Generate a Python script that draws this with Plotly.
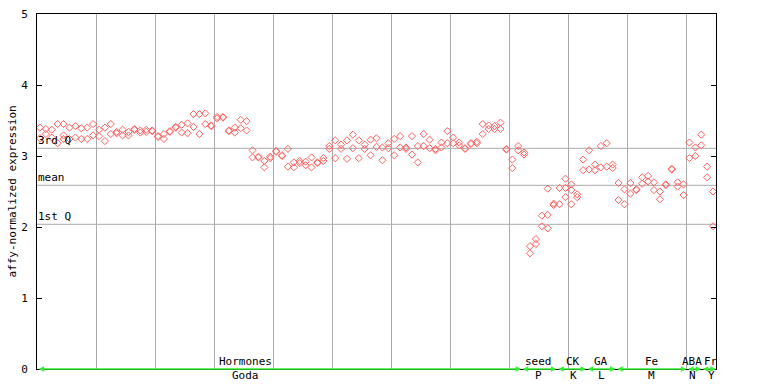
import plotly.graph_objects as go

# ---- data ----
rep1 = [3.40, 3.38, 3.37, 3.45, 3.45, 3.40, 3.42, 3.39, 3.40, 3.45,
        3.37, 3.40, 3.45, 3.34, 3.37, 3.34, 3.38, 3.36, 3.37, 3.36,
        3.28, 3.31, 3.35, 3.41, 3.44, 3.46, 3.59, 3.59, 3.60, 3.43,
        3.55, 3.55, 3.36, 3.40, 3.51, 3.49, 3.08, 2.99, 2.93, 2.99,
        3.07, 3.01, 3.10, 2.91, 2.93, 2.92, 2.98, 2.91, 2.97, 3.14,
        3.22, 3.16, 3.22, 3.30, 3.22, 3.16, 3.23, 3.25, 3.12, 3.18,
        3.24, 3.28, 3.12, 3.28, 3.14, 3.31, 3.23, 3.10, 3.19, 3.35,
        3.26, 3.19, 3.11, 3.18, 3.20, 3.45, 3.43, 3.42, 3.47, 3.10,
        2.95, 3.14, 3.05, 1.73, 1.83, 2.16, 2.54, 2.33, 2.55, 2.68,
        2.60, 2.46, 2.95, 3.08, 2.88, 3.14, 3.18, 2.88, 2.62, 2.53,
        2.62, 2.53, 2.70, 2.72, 2.63, 2.50, 2.60, 2.82, 2.63, 2.60,
        3.19, 3.12, 3.30, 2.85, 2.50]
rep2 = [3.25, 3.31, 3.26, 3.18, 3.24, 3.24, 3.26, 3.24, 3.24, 3.29,
        3.28, 3.21, 3.31, 3.32, 3.29, 3.29, 3.37, 3.33, 3.34, 3.35,
        3.27, 3.24, 3.34, 3.40, 3.33, 3.32, 3.41, 3.31, 3.45, 3.42,
        3.53, 3.54, 3.35, 3.33, 3.39, 3.36, 2.98, 2.98, 2.84, 2.97,
        3.06, 3.00, 2.85, 2.84, 2.90, 2.87, 2.84, 2.90, 2.93, 3.10,
        2.97, 3.10, 2.96, 3.11, 2.97, 3.10, 3.01, 3.13, 2.94, 3.11,
        3.01, 3.12, 3.10, 3.02, 2.91, 3.14, 3.11, 3.08, 3.12, 3.18,
        3.18, 3.15, 3.10, 3.17, 3.18, 3.31, 3.38, 3.38, 3.38, 3.09,
        2.83, 3.08, 3.02, 1.63, 1.76, 2.01, 2.17, 2.31, 2.32, 2.55,
        2.52, 2.42, 2.80, 2.81, 2.80, 2.84, 2.85, 2.83, 2.38, 2.32,
        2.47, 2.52, 2.61, 2.64, 2.52, 2.39, 2.59, 2.81, 2.57, 2.45,
        2.97, 3.00, 3.15, 2.70, 2.01]
# third replicate where present (sample index -> value)
rep3_idx = [4, 86, 89, 90]
rep3_val = [3.29, 1.98, 2.42, 2.32]

quart_names = ["3rd Q", "mean", "1st Q"]
quart_vals = [3.108, 2.587, 2.038]

group_top = ["Hormones", "seed", "CK", "GA", "Fe", "ABA", "Fr"]
group_bottom = ["Goda", "P", "K", "L", "M", "N", "Y"]
group_start = [0, 82, 88, 93, 98, 110, 112.5]
group_end = [82, 88, 93, 98, 110, 112.5, 115]
group_label_x = [35.3, 85.0, 90.8, 95.6, 104.0, 111.0, 114.2]

y_ticks = [0, 1, 2, 3, 4, 5]

# ---- figure ----
N = len(rep1)
xs = [i + 0.5 for i in range(N)]
mono = "DejaVu Sans Mono"
red = "#ff6262"

fig = go.Figure()
marker = dict(symbol="diamond-open", size=5.5, color=red, line=dict(width=1, color=red))
fig.add_trace(go.Scatter(x=xs, y=rep1, mode="markers", marker=marker, showlegend=False, cliponaxis=False))
fig.add_trace(go.Scatter(x=xs, y=rep2, mode="markers", marker=marker, showlegend=False, cliponaxis=False))
fig.add_trace(go.Scatter(x=[i + 0.5 for i in rep3_idx], y=rep3_val, mode="markers",
                         marker=marker, showlegend=False, cliponaxis=False))

shapes = []
for v in quart_vals:
    shapes.append(dict(type="line", xref="x", yref="y", x0=0, x1=N, y0=v, y1=v,
                       line=dict(color="#aaaaaa", width=1), layer="below"))

annotations = []
for name, v in zip(quart_names, quart_vals):
    annotations.append(dict(x=0, y=v, xref="x", yref="y", text=name, showarrow=False,
                            xanchor="left", yanchor="bottom", xshift=-1, yshift=-1,
                            font=dict(family=mono, size=11, color="black")))

green = "#33ee33"
for s, e in zip(group_start, group_end):
    annotations.append(dict(x=e, y=0, ax=s, ay=0, xref="x", yref="y", axref="x", ayref="y",
                            text="", showarrow=True, arrowhead=2, arrowside="end+start",
                            arrowsize=0.7, arrowwidth=1.6, arrowcolor=green,
                            standoff=0, startstandoff=0))
for t, b, lx in zip(group_top, group_bottom, group_label_x):
    annotations.append(dict(x=lx, y=0, xref="x", yref="y", text=t, showarrow=False,
                            yanchor="bottom", yshift=-1,
                            font=dict(family=mono, size=11, color="black")))
    annotations.append(dict(x=lx, y=0, xref="x", yref="y", text=b, showarrow=False,
                            yanchor="top", yshift=2,
                            font=dict(family=mono, size=11, color="black")))

annotations.append(dict(x=0, y=0.5, xref="paper", yref="paper", text="affy-normalized expression",
                        textangle=-90, showarrow=False, xanchor="center", yanchor="middle",
                        xshift=-25, font=dict(family=mono, size=11, color="black")))

fig.update_layout(
    width=768, height=384,
    margin=dict(l=37, r=52, t=14, b=15, autoexpand=False),
    paper_bgcolor="white", plot_bgcolor="white",
    shapes=shapes, annotations=annotations,
    xaxis=dict(range=[0, N], tick0=0, dtick=10, showgrid=True, gridcolor="#aaaaaa", gridwidth=1,
               showticklabels=False, ticks="", showline=True, linecolor="black", linewidth=1,
               mirror=True, zeroline=False, fixedrange=True, automargin=False),
    yaxis=dict(range=[0, 5], tickvals=y_ticks, ticks="inside", ticklen=5, tickcolor="black",
               showgrid=False, showline=True, linecolor="black", linewidth=1, mirror="ticks",
               zeroline=False, ticklabelstandoff=6, automargin=False,
               tickfont=dict(family=mono, size=11, color="black"), fixedrange=True),
    font=dict(family=mono, size=11, color="black"),
)

fig.write_html("out.html", config={"displayModeBar": False},
               post_script="document.body.style.margin='0';document.body.style.overflow='hidden';")
